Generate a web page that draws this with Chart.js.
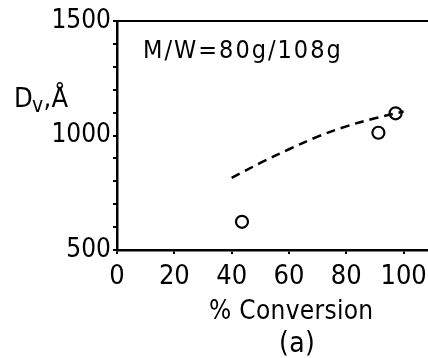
<!DOCTYPE html>
<html>
<head>
<meta charset="utf-8">
<script src="https://cdn.jsdelivr.net/npm/chart.js@4.4.1/dist/chart.umd.min.js"></script>
<style>
  html, body { margin: 0; padding: 0; background: #fff; }
  #wrap { width: 428px; height: 358px; position: relative; }
</style>
</head>
<body>
<div id="wrap"><canvas id="chart"></canvas></div>
<script>
// ---- data ----
const xTicks = [0, 20, 40, 60, 80, 100];
const yLabelTicks = [500, 1000, 1500];
const dotConv = [43.6, 91.2, 97.2];
const dotDv = [623, 1012, 1097];
const curveConv = [40, 50, 60, 70, 80, 90, 100];
const curveDv = [815, 880, 940, 995, 1040, 1075, 1105];
const noteText = 'M/W=80g/108g';
const xTitle = '% Conversion';
const panelTag = '(a)';

const FONT = "'DejaVu Sans Condensed', 'DejaVu Sans', sans-serif";
const INK = '#000';

// free text: inset note, y-axis label with subscript, x title and panel tag
const labels = {
  id: 'labels',
  afterDraw(chart) {
    const { ctx } = chart;
    const x = chart.scales.x;
    ctx.save();
    ctx.fillStyle = INK;
    ctx.textBaseline = 'alphabetic';

    ctx.font = '25px ' + FONT;
    ctx.letterSpacing = '2px';
    ctx.textAlign = 'left';
    ctx.fillText(noteText, 143, 58);
    ctx.letterSpacing = '0.3px';

    // D_v, Å
    let px = 14;
    ctx.font = '27px ' + FONT;
    ctx.fillText('D', px, 107);
    px += ctx.measureText('D').width - 1;
    ctx.font = '21px ' + FONT;
    ctx.fillText('v', px, 112);
    px += ctx.measureText('v').width;
    ctx.font = '27px ' + FONT;
    ctx.fillText(',Å', px, 107);

    ctx.textAlign = 'center';
    ctx.font = '26px ' + FONT;
    ctx.fillText(xTitle, x.getPixelForValue(60.8), 319);
    ctx.font = '28px ' + FONT;
    ctx.fillText(panelTag, x.getPixelForValue(62.8), 352);
    ctx.restore();
  }
};

new Chart(document.getElementById('chart'), {
  type: 'scatter',
  data: {
    datasets: [
      {
        label: 'fit',
        type: 'line',
        data: curveConv.map((c, i) => ({ x: c, y: curveDv[i] })),
        borderColor: INK,
        borderWidth: 2.5,
        borderDash: [9, 6],
        pointRadius: 0,
        tension: 0.4,
        fill: false
      },
      {
        label: 'Dv',
        data: dotConv.map((c, i) => ({ x: c, y: dotDv[i] })),
        pointStyle: 'circle',
        pointRadius: 6,
        pointBorderWidth: 2.2,
        pointBorderColor: INK,
        pointBackgroundColor: 'rgba(0,0,0,0)'
      }
    ]
  },
  options: {
    responsive: true,
    maintainAspectRatio: false,
    animation: false,
    layout: { padding: 0, autoPadding: false },
    plugins: { legend: { display: false }, tooltip: { enabled: false } },
    scales: {
      x: {
        type: 'linear', position: 'bottom', min: 0, max: 108.5,
        border: { color: INK, width: 2.5 },
        grid: { drawOnChartArea: false, color: INK, lineWidth: 2, tickLength: 4 },
        ticks: { color: INK, font: { family: FONT, size: 27 }, padding: 7, autoSkip: false, maxRotation: 0 },
        afterBuildTicks: s => { s.ticks = xTicks.map(v => ({ value: v })); },
        afterFit: s => { s.height = 108; s.paddingLeft = 0; s.paddingRight = 0; }
      },
      xTop: {
        type: 'linear', position: 'top', min: 0, max: 108.5,
        border: { color: INK, width: 2 },
        grid: { display: false },
        ticks: { display: false },
        afterFit: s => { s.height = 21; }
      },
      y: {
        type: 'linear', min: 500, max: 1500,
        border: { color: INK, width: 2.5 },
        grid: { drawOnChartArea: false, color: INK, lineWidth: 2, tickLength: 4 },
        ticks: {
          stepSize: 100, color: INK, font: { family: FONT, size: 26 }, padding: 2, autoSkip: false,
          callback: v => yLabelTicks.includes(v) ? String(v) : ''
        },
        afterFit: s => { s.width = 117; s.paddingTop = 0; s.paddingBottom = 0; }
      }
    }
  },
  plugins: [labels]
});
</script>
</body>
</html>
